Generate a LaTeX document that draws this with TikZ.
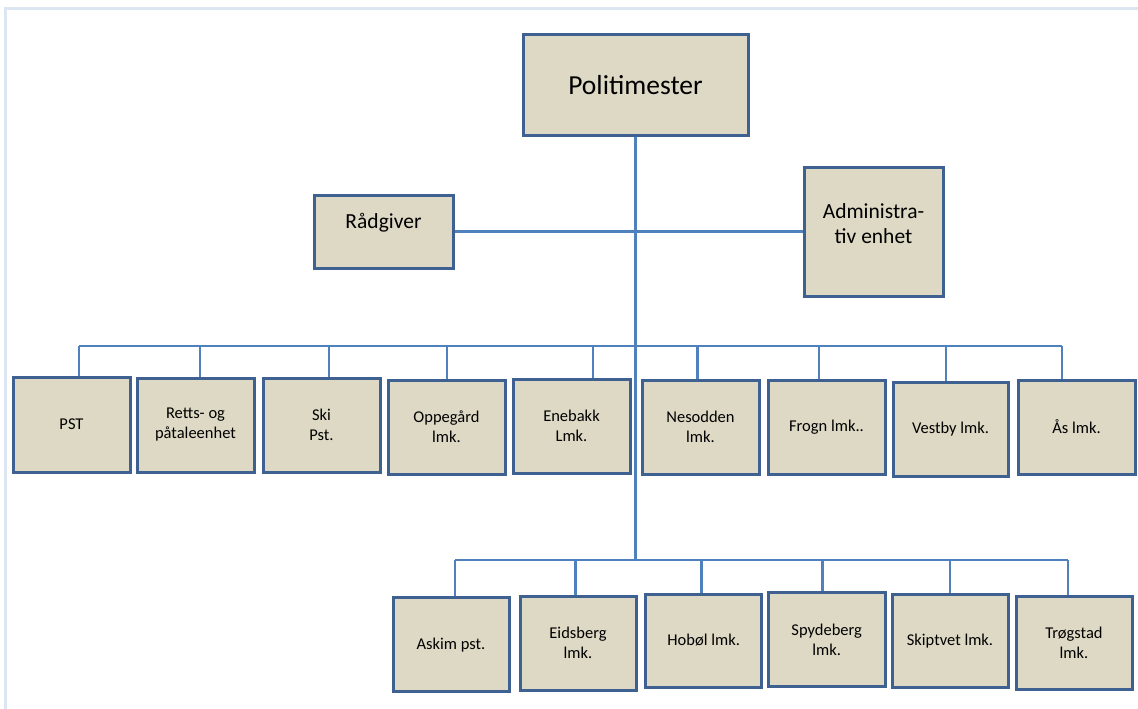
\documentclass[tikz,border=0pt]{standalone}
\usepackage{fontspec}
\setmainfont{Carlito}
\definecolor{boxfill}{HTML}{DDD9C4}
\definecolor{boxborder}{HTML}{3E6192}
\definecolor{connblue}{HTML}{4F81BD}
\definecolor{framecol}{HTML}{DCE6F2}
\begin{document}
\begin{tikzpicture}[x=1pt,y=-1pt,
  box/.style={draw=boxborder, line width=3pt, fill=boxfill, inner sep=0pt, align=center, text=black,
    font=\fontsize{16.5}{20}\selectfont, minimum width=117pt, minimum height=94pt},
  midtext/.style={align=center, text=black, inner sep=0pt, font=\fontsize{21.5}{25}\selectfont},
  conn/.style={draw=connblue, line width=2.5pt},
  framel/.style={draw=framecol, line width=3pt}]
\useasboundingbox (0,0) rectangle (1138,709);
\draw[framel] (5,709) -- (5,9) -- (1138,9);

% top level
\node[box, minimum width=225pt, minimum height=100pt, font=\fontsize{27.5}{33}\selectfont] (pol) at (635.5,85) {Politimester};
\node[box, minimum width=139pt, minimum height=73pt] (rad) at (383.5,231.5) {};
\node[midtext] (radt) at (383.5,223) {Rådgiver};
\node[box, minimum width=139pt, minimum height=129pt] (adm) at (873.5,231.5) {};
\node[midtext] (admt) at (873.5,224) {Administra-\\tiv enhet};

% row 1
\node[box, minimum height=95pt] (pst) at (71.5,424.5) {PST};
\node[box] (ret) at (195.5,425) {Retts- og\\påtaleenhet};
\node[box] (ski) at (321.5,425) {Ski\\Pst.};
\node[box] (opp) at (446.5,427) {Oppegård\\lmk.};
\node[box] (ene) at (571.5,426) {Enebakk\\Lmk.};
\node[box] (nes) at (700.5,427) {Nesodden\\lmk.};
\node[box] (fro) at (826.5,427) {Frogn lmk..};
\node[box, minimum width=115pt] (ves) at (950.5,429) {Vestby lmk.};
\node[box] (aas) at (1076.5,427) {Ås lmk.};

% row 2
\node[box, minimum width=116pt] (ask) at (451,644.7) {Askim pst.};
\node[box, minimum width=116pt] (eid) at (578,643) {Eidsberg\\lmk.};
\node[box, minimum width=116pt, minimum height=93pt] (hob) at (703.7,640.5) {Hobøl lmk.};
\node[box] (spy) at (826.7,639.7) {Spydeberg\\lmk.};
\node[box, minimum width=116pt, minimum height=93pt] (skp) at (950,640.7) {Skiptvet lmk.};
\node[box, minimum width=116pt, minimum height=93pt] (tro) at (1074,643.3) {Trøgstad\\lmk.};

% bus coordinates row 1
\coordinate (b1) at (79,346);
\coordinate (b2) at (200,346);
\coordinate (b3) at (329,346);
\coordinate (b4) at (447,346);
\coordinate (b5) at (593,346);
\coordinate (b6) at (697.5,346);
\coordinate (b7) at (819,346);
\coordinate (b8) at (946,346);
\coordinate (b9) at (1062,346);
% bus coordinates row 2
\coordinate (c1) at (455,560);
\coordinate (c2) at (575.7,560);
\coordinate (c3) at (701.7,560);
\coordinate (c4) at (822.3,560);
\coordinate (c5) at (950,560);
\coordinate (c6) at (1068,560);

% connectors
\draw[conn] (pol.south) -- (pol.south |- c1);
\draw[conn] (rad.east) -- (adm.west);
\draw[conn] (b1) -- (b9);
\draw[conn] (b1) -- (b1 |- pst.north);
\draw[conn] (b2) -- (b2 |- ret.north);
\draw[conn] (b3) -- (b3 |- ski.north);
\draw[conn] (b4) -- (b4 |- opp.north);
\draw[conn] (b5) -- (b5 |- ene.north);
\draw[conn] (b6) -- (b6 |- nes.north);
\draw[conn] (b7) -- (b7 |- fro.north);
\draw[conn] (b8) -- (b8 |- ves.north);
\draw[conn] (b9) -- (b9 |- aas.north);
\draw[conn] (c1) -- (c6);
\draw[conn] (c1) -- (c1 |- ask.north);
\draw[conn] (c2) -- (c2 |- eid.north);
\draw[conn] (c3) -- (c3 |- hob.north);
\draw[conn] (c4) -- (c4 |- spy.north);
\draw[conn] (c5) -- (c5 |- skp.north);
\draw[conn] (c6) -- (c6 |- tro.north);
\end{tikzpicture}
\end{document}
